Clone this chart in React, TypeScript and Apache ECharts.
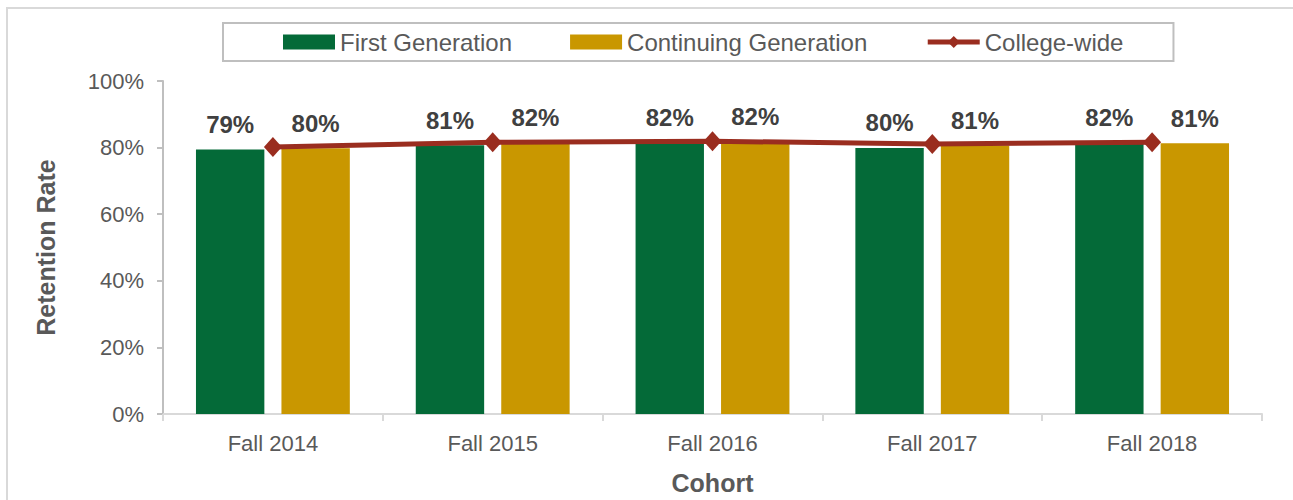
import React, { useEffect, useRef } from "react";
import * as echarts from "echarts";

const categories = ["Fall 2014", "Fall 2015", "Fall 2016", "Fall 2017", "Fall 2018"];
const firstGeneration = [79.4, 80.7, 81.6, 79.9, 81.6];
const continuingGeneration = [79.8, 81.5, 81.7, 80.6, 81.3];
const collegeWide = [80.2, 81.6, 81.9, 81.1, 81.6];
const yTicks = [0, 20, 40, 60, 80, 100];

const FONT = "'Liberation Sans', Arial, Helvetica, sans-serif";

export default function App() {
  const ref = useRef<HTMLDivElement>(null);
  useEffect(() => {
    if (!ref.current) return;
    const chart = echarts.init(ref.current, null, { renderer: "svg" });
    const barLabel = {
      show: true,
      position: "top",
      distance: 13,
      formatter: (p: any) => Math.round(p.value) + "%",
      fontFamily: FONT,
      fontSize: 24,
      fontWeight: "bold",
      color: "#404040",
    };
    chart.setOption({
      animation: false,
      backgroundColor: "#ffffff",
      textStyle: { fontFamily: FONT },
      graphic: [
        {
          type: "rect",
          shape: { x: 7, y: 8, width: 1310, height: 620 },
          style: { fill: "none", stroke: "#d9d9d9", lineWidth: 2 },
          silent: true,
          z: -10,
        },
      ],
      legend: {
        left: 223,
        top: 23,
        padding: [7, 50, 7, 60],
        borderColor: "#bfbfbf",
        borderWidth: 2,
        itemGap: 58,
        itemWidth: 52,
        itemHeight: 15,
        textStyle: { fontFamily: FONT, fontSize: 24, color: "#595959" },
        data: [
          { name: "First Generation", icon: "rect" },
          { name: "Continuing Generation", icon: "rect" },
          {
            name: "College-wide",
            lineStyle: { width: 5, color: "#9A2D1F" },
            itemStyle: { color: "#9A2D1F" },
          },
        ],
      },
      grid: { left: 163, right: 31, top: 81, bottom: 83, containLabel: false },
      xAxis: {
        type: "category",
        data: categories,
        name: "Cohort",
        nameLocation: "middle",
        nameGap: 56,
        nameTextStyle: { fontFamily: FONT, fontSize: 25, fontWeight: "bold", color: "#595959" },
        axisLine: { show: true, lineStyle: { color: "#d9d9d9", width: 2 } },
        axisTick: { show: true, alignWithLabel: false, length: 7, lineStyle: { color: "#d9d9d9", width: 2 } },
        axisLabel: { fontFamily: FONT, fontSize: 22, color: "#595959", margin: 18 },
      },
      yAxis: {
        type: "value",
        min: yTicks[0],
        max: yTicks[yTicks.length - 1],
        interval: 20,
        name: "Retention Rate",
        nameLocation: "middle",
        nameGap: 105,
        nameTextStyle: { fontFamily: FONT, fontSize: 25, fontWeight: "bold", color: "#595959" },
        axisLine: { show: true, lineStyle: { color: "#bfbfbf", width: 2 } },
        axisTick: { show: true, length: 6, lineStyle: { color: "#bfbfbf", width: 2 } },
        splitLine: { show: false },
        axisLabel: { fontFamily: FONT, fontSize: 22, color: "#595959", margin: 19, formatter: "{value}%" },
      },
      series: [
        {
          name: "First Generation",
          type: "bar",
          data: firstGeneration,
          barGap: "25%",
          barCategoryGap: "30%",
          itemStyle: { color: "#046A38" },
          label: barLabel,
          z: 2,
        },
        {
          name: "Continuing Generation",
          type: "bar",
          data: continuingGeneration,
          barGap: "25%",
          barCategoryGap: "30%",
          itemStyle: { color: "#C99700" },
          label: barLabel,
          z: 2,
        },
        {
          name: "College-wide",
          type: "line",
          data: collegeWide,
          symbol: "diamond",
          symbolSize: [18, 20],
          showSymbol: true,
          lineStyle: { color: "#9A2D1F", width: 5 },
          itemStyle: { color: "#9A2D1F" },
          z: 5,
        },
      ],
    });
    return () => chart.dispose();
  }, []);
  return (
    <div
      ref={ref}
      style={{ position: "fixed", left: 0, top: 0, width: 1293, height: 500, background: "#fff" }}
    />
  );
}
